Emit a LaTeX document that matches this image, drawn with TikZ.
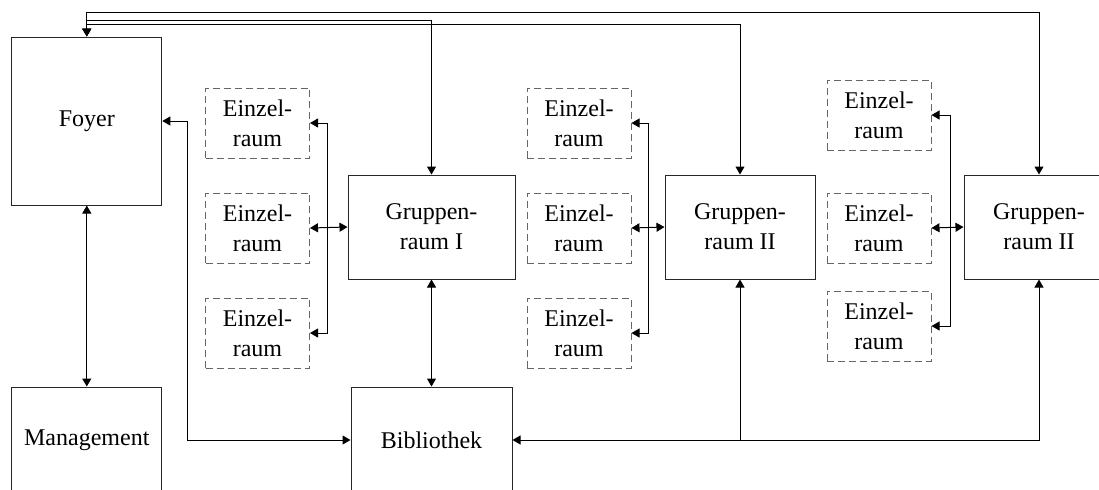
\documentclass[tikz,border=0pt]{standalone}
\usepackage{fontspec}
\setmainfont{Liberation Serif}
\usetikzlibrary{arrows.meta}

\begin{document}
\begin{tikzpicture}[x=0.5pt,y=-0.5pt,
        >={Triangle[length=4pt,width=4.5pt]},
        room/.style={draw=black!85, line width=0.5pt, inner sep=0pt, align=center, font=\fontsize{12}{15}\selectfont},
        single/.style={room, draw=black!60, dash pattern=on 3.5pt off 2pt, minimum width=52pt, minimum height=35pt},
        link/.style={black, line width=0.5pt}]
        \useasboundingbox (0,0) rectangle (1099,489);
        \node [room, minimum width=75pt, minimum height=84pt] (foyer) at (86.8,121) {Foyer};
        \node [room, minimum width=75pt, minimum height=53pt] (mgmt) at (86.8,440) {Management};
        \node [room, minimum width=80.5pt, minimum height=53pt] (bib) at (431.5,440) {Bibliothek};
        \node [room, minimum width=83.5pt, minimum height=52pt] (gr1) at (431.5,227) {Gruppen-\\raum I};
        \node [room, minimum width=75pt, minimum height=52pt] (gr2) at (740,227) {Gruppen-\\raum II};
        \node [room, minimum width=75pt, minimum height=52pt] (gr3) at (1039,227) {Gruppen-\\raum II};
        \node [single] (ez1a) at (257.5,123) {Einzel-\\raum};
        \node [single] (ez1b) at (257.5,228) {Einzel-\\raum};
        \node [single] (ez1c) at (257.5,333) {Einzel-\\raum};
        \node [single] (ez2a) at (579,123) {Einzel-\\raum};
        \node [single] (ez2b) at (579,228) {Einzel-\\raum};
        \node [single] (ez2c) at (579,333) {Einzel-\\raum};
        \node [single] (ez3a) at (879,115) {Einzel-\\raum};
        \node [single] (ez3b) at (879,228) {Einzel-\\raum};
        \node [single] (ez3c) at (879,326) {Einzel-\\raum};
        % Verteiler neben den Gruppenraeumen
        \coordinate (bus1) at (327,228);
        \coordinate (bus2) at (648,228);
        \coordinate (bus3) at (950,228);
        \coordinate (fb) at (187,122);
        % Foyer nach oben zu den Gruppenraeumen
        \draw [link,<->] (foyer.north) -- (foyer.north |- 0,12) -| (gr3.north);
        \draw [link,<->] (foyer.north) -- (foyer.north |- 0,20) -| (gr1.north);
        \draw [link,<->] (foyer.north) -- (foyer.north |- 0,24) -| (gr2.north);
        \draw [link,<->] (foyer.south) -- (mgmt.north);
        \draw [link,<->] (foyer.east) -| (fb |- bib.west) -- (bib.west);
        \draw [link,<->] (gr1.south) -- (bib.north);
        \draw [link,<->] (bib.east) -| (gr3.south);
        \draw [link,->] (gr2.south |- bib.east) -- (gr2.south);
        % Einzelraeume
        \draw [link,<->] (ez1b.east) -- (gr1.west);
        \draw [link,->] (bus1) |- (ez1a.east);
        \draw [link,->] (bus1) |- (ez1c.east);
        \draw [link,<->] (ez2b.east) -- (gr2.west);
        \draw [link,->] (bus2) |- (ez2a.east);
        \draw [link,->] (bus2) |- (ez2c.east);
        \draw [link,<->] (ez3b.east) -- (gr3.west);
        \draw [link,->] (bus3) |- (ez3a.east);
        \draw [link,->] (bus3) |- (ez3c.east);
\end{tikzpicture}
\end{document}
